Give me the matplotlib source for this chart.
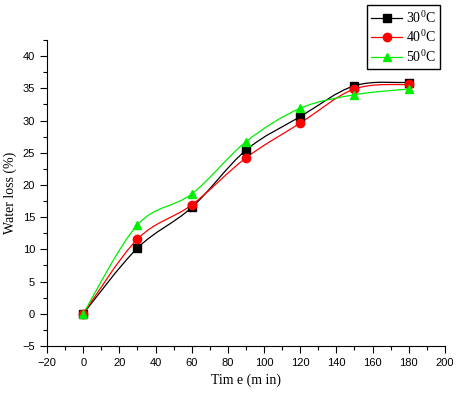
import numpy as np
import matplotlib
matplotlib.use("Agg")
import matplotlib.pyplot as plt
from matplotlib.path import Path
from matplotlib.patches import PathPatch
from matplotlib.lines import Line2D
from matplotlib.ticker import MultipleLocator

# datos
tiempo = [0, 30, 60, 90, 120, 150, 180]
perdida_30 = [0, 10.2, 16.5, 25.4, 30.6, 35.4, 35.9]
perdida_40 = [0, 11.6, 16.9, 24.2, 29.6, 34.9, 35.6]
perdida_50 = [0, 13.8, 18.6, 26.7, 31.9, 34.0, 34.9]
etiquetas = ["30$^\\mathregular{0}$C", "40$^\\mathregular{0}$C", "50$^\\mathregular{0}$C"]

plt.rcParams['mathtext.fontset'] = 'custom'
plt.rcParams['mathtext.rm'] = 'Liberation Serif'


def curva_suave(x, y):
    # Catmull-Rom -> segmentos Bezier cubicos (como el spline de Origin)
    x = np.asarray(x, float)
    y = np.asarray(y, float)
    pts = np.column_stack([x, y])
    verts = [pts[0]]
    codes = [Path.MOVETO]
    n = len(pts)
    for i in range(n - 1):
        p0 = pts[i - 1] if i > 0 else pts[i]
        p1 = pts[i]
        p2 = pts[i + 1]
        p3 = pts[i + 2] if i + 2 < n else pts[i + 1]
        c1 = p1 + (p2 - p0) / 6.0
        c2 = p2 - (p3 - p1) / 6.0
        verts += [c1, c2, p2]
        codes += [Path.CURVE4] * 3
    return Path(verts, codes)


fig = plt.figure(figsize=(4.61, 3.93), dpi=100)
ax = fig.add_axes([0.102, 0.1196, 0.863, 0.7786])

series = [(perdida_30, 'black', 's'), (perdida_40, 'red', 'o'), (perdida_50, '#00ee00', '^')]
handles = []
for (vals, col, mk), lab in zip(series, etiquetas):
    ax.add_patch(PathPatch(curva_suave(tiempo, vals), facecolor='none',
                           edgecolor=col, linewidth=0.9))
    ax.plot(tiempo, vals, linestyle='none', marker=mk, color=col, markersize=6)
    handles.append(Line2D([], [], color=col, marker=mk, markersize=6, linewidth=0.9, label=lab))

ax.set_xlim(-20, 200)
ax.set_ylim(-5, 42.5)
ax.xaxis.set_major_locator(MultipleLocator(20))
ax.xaxis.set_minor_locator(MultipleLocator(10))
ax.yaxis.set_major_locator(MultipleLocator(5))
ax.yaxis.set_minor_locator(MultipleLocator(2.5))
ax.set_yticks([t for t in range(-5, 41, 5)])
ax.spines['top'].set_visible(False)
ax.spines['right'].set_visible(False)
ax.tick_params(which='major', direction='out', length=5, width=0.8,
               labelsize=8, labelfontfamily='Liberation Sans')
ax.tick_params(which='minor', direction='out', length=3, width=0.8)

ax.set_xlabel('Tim e (m in)', fontfamily='Liberation Serif', fontsize=10)
ax.set_ylabel('Water loss (%)', fontfamily='Liberation Serif', fontsize=10)

leg = fig.legend(handles=handles, loc='upper right', bbox_to_anchor=(440 / 461, 1 - 5 / 393),
                 prop={'family': 'Liberation Serif', 'size': 10}, frameon=True,
                 fancybox=False, edgecolor='black', framealpha=1, handlelength=2.2,
                 borderpad=0.3, borderaxespad=0, labelspacing=0.2, handletextpad=0.3)
leg.get_frame().set_linewidth(1.0)

fig.savefig('out.png', dpi=100)
